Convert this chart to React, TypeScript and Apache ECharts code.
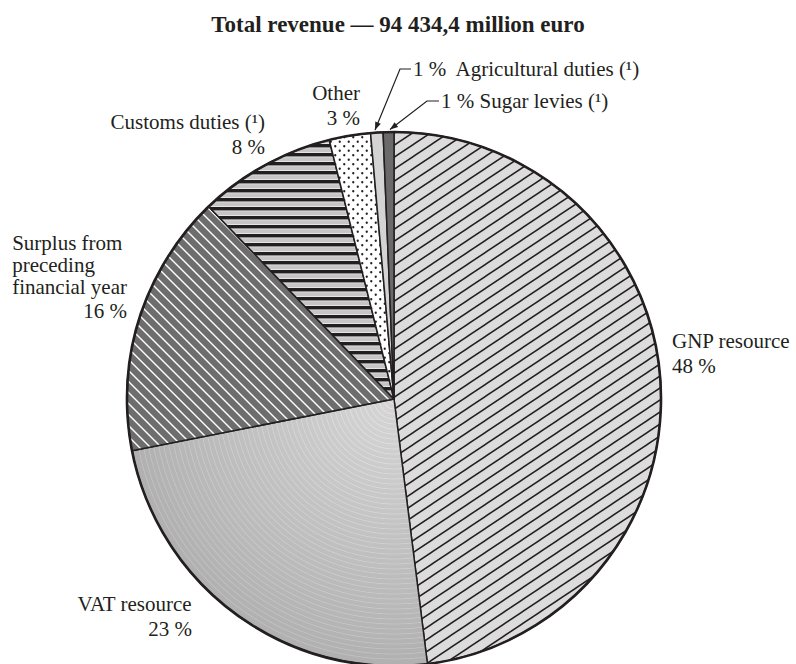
import React, { useEffect, useRef } from "react";
import * as echarts from "echarts";

// ---- data ----
const titleText = "Total revenue — 94 434,4 million euro";
const names = [
  "GNP resource",
  "VAT resource",
  "Surplus from\npreceding\nfinancial year",
  "Customs duties (¹)",
  "Other",
  "Agricultural duties (¹)",
  "Sugar levies (¹)",
];
const shares = [48.0, 23.9, 15.9, 8.3, 2.5, 0.75, 0.65];
const shareLabels = ["48 %", "23 %", "16 %", "8 %", "3 %", "1 %", "1 %"];

// ---- layout (not data) ----
const CX = 394;
const CY = 399;
const R = 267;
const labelAnchors: [number, number, string][] = [
  [672, 353.5, "left"],
  [192, 616.5, "right"],
  [127, 278, "right"],
  [265, 134.5, "right"],
  [360, 105.5, "right"],
  [413, 68.5, "left"],
  [441, 100.5, "left"],
];
const leaderLines: Record<number, number[][]> = {
  5: [[375, 130], [400, 69], [411, 69]],
  6: [[390, 129.5], [427, 101], [439, 101]],
};

const SERIF = "'Liberation Serif', 'Times New Roman', serif";
const INK = "#231f20";

function makeCanvas(w: number, h: number, draw: (c: CanvasRenderingContext2D) => void) {
  const cv = document.createElement("canvas");
  cv.width = w;
  cv.height = h;
  const ctx = cv.getContext("2d")!;
  draw(ctx);
  return { image: cv, repeat: "repeat", imageWidth: w, imageHeight: h } as any;
}

function hatch(bg: string, fg: string, w: number, h: number, lw: number, dir: "/" | "\\") {
  return makeCanvas(w, h, (c) => {
    c.fillStyle = bg;
    c.fillRect(0, 0, w, h);
    c.strokeStyle = fg;
    c.lineWidth = lw;
    for (const off of [-w, 0, w]) {
      c.beginPath();
      if (dir === "/") {
        c.moveTo(off - w, 2 * h);
        c.lineTo(off + 2 * w, -h);
      } else {
        c.moveTo(off - w, -h);
        c.lineTo(off + 2 * w, 2 * h);
      }
      c.stroke();
    }
  });
}

function stripes() {
  return makeCanvas(4, 9, (c) => {
    c.fillStyle = "#c6c6c6";
    c.fillRect(0, 0, 4, 9);
    c.fillStyle = "#f2f2f2";
    c.fillRect(0, 3.4, 4, 0.8);
    c.fillRect(0, 8.3, 4, 0.7);
    c.fillStyle = INK;
    c.fillRect(0, 0, 4, 3.4);
  });
}

function dots() {
  return makeCanvas(9, 9, (c) => {
    c.fillStyle = "#ffffff";
    c.fillRect(0, 0, 9, 9);
    c.fillStyle = INK;
    for (const [x, y] of [[2.25, 2.25], [6.75, 6.75]]) {
      c.beginPath();
      c.arc(x, y, 1.15, 0, Math.PI * 2);
      c.fill();
    }
  });
}

function vatGradient() {
  const inner = 214;
  const outer = 176;
  const grey = (f: number, d = 0) => {
    const v = Math.round(inner + (outer - inner) * f + d);
    return `rgb(${v},${v},${v})`;
  };
  const stops: { offset: number; color: string }[] = [{ offset: 0, color: grey(0) }];
  const step = 5 / R;
  for (let f = step; f < 1 - step; f += step) {
    stops.push({ offset: f - 0.003, color: grey(f) });
    stops.push({ offset: f, color: grey(f, 16) });
    stops.push({ offset: f + 0.003, color: grey(f) });
  }
  stops.push({ offset: 1, color: grey(1) });
  return { type: "radial", x: CX, y: CY, r: R, global: true, colorStops: stops } as any;
}

export default function App() {
  const ref = useRef<HTMLDivElement>(null);
  useEffect(() => {
    if (!ref.current) return;
    const chart = echarts.init(ref.current, undefined, { renderer: "svg" });

    const fills = [
      hatch("#dcdcdc", INK, 18, 12, 1.5, "/"),
      vatGradient(),
      hatch("#6d6d6d", "#ffffff", 11, 11, 1.4, "\\"),
      stripes(),
      dots(),
      "#d4d4d4",
      "#6a6a6a",
    ];

    const data = names.map((n, i) => ({
      name: n,
      value: shares[i],
      itemStyle: { color: fills[i] },
      labelLine: { show: leaderLines[i] != null },
    }));

    const arrowHeads = Object.keys(leaderLines).map((k) => {
      const pts = leaderLines[Number(k)];
      const [tx, ty] = pts[0];
      const dx = pts[1][0] - tx;
      const dy = pts[1][1] - ty;
      const len = Math.hypot(dx, dy);
      const ux = dx / len;
      const uy = dy / len;
      const L = 8;
      const W = 3;
      return {
        type: "polygon",
        silent: true,
        shape: {
          points: [
            [tx, ty],
            [tx + L * ux - W * uy, ty + L * uy + W * ux],
            [tx + L * ux + W * uy, ty + L * uy - W * ux],
          ],
        },
        style: { fill: INK },
      };
    });

    const base = { fontFamily: SERIF, fontSize: 21, color: INK, lineHeight: 25 };

    chart.setOption({
      animation: false,
      backgroundColor: "#ffffff",
      title: {
        text: titleText,
        left: "center",
        top: 8,
        textStyle: { fontFamily: SERIF, fontWeight: "bold", fontSize: 23, color: INK },
      },
      graphic: arrowHeads,
      series: [
        {
          type: "pie",
          center: [CX, CY],
          radius: R,
          startAngle: 90,
          clockwise: true,
          avoidLabelOverlap: false,
          minShowLabelAngle: 0,
          emphasis: { disabled: true },
          silent: true,
          itemStyle: { borderColor: INK, borderWidth: 1.5 },
          label: {
            show: true,
            position: "outside",
            color: INK,
            fontFamily: SERIF,
            fontSize: 21,
            formatter: (p: any) => {
              const i = p.dataIndex;
              if (i >= 5) {
                return `{n|${shareLabels[i]}${i === 5 ? "  " : " "}${names[i]}}`;
              }
              if (i === 2) {
                return `{ns|${names[i]}}\n{rs|${shareLabels[i]}}`;
              }
              return `{n|${names[i]}}\n{${i === 0 ? "n" : "r"}|${shareLabels[i]}}`;
            },
            rich: {
              n: { ...base, align: "left" },
              r: { ...base, align: "right" },
              ns: { ...base, lineHeight: 22, align: "left" },
              rs: { ...base, lineHeight: 26, align: "right" },
            },
          },
          labelLine: {
            show: false,
            lineStyle: { color: INK, width: 1.2 },
          },
          labelLayout: (params: any) => {
            const i = params.dataIndex;
            const a = labelAnchors[i];
            const out: any = { x: a[0], y: a[1], align: a[2], verticalAlign: "middle" };
            if (leaderLines[i]) out.labelLinePoints = leaderLines[i];
            return out;
          },
          data,
        },
        {
          type: "pie",
          center: [CX, CY],
          radius: R,
          silent: true,
          label: { show: false },
          labelLine: { show: false },
          emphasis: { disabled: true },
          itemStyle: { color: "rgba(0,0,0,0)", borderColor: INK, borderWidth: 2.6 },
          data: [{ value: 1, name: "outline" }],
        },
      ],
    });
    return () => chart.dispose();
  }, []);
  return (
    <div
      ref={ref}
      style={{ position: "absolute", left: 0, top: 0, width: 796, height: 664 }}
    />
  );
}
